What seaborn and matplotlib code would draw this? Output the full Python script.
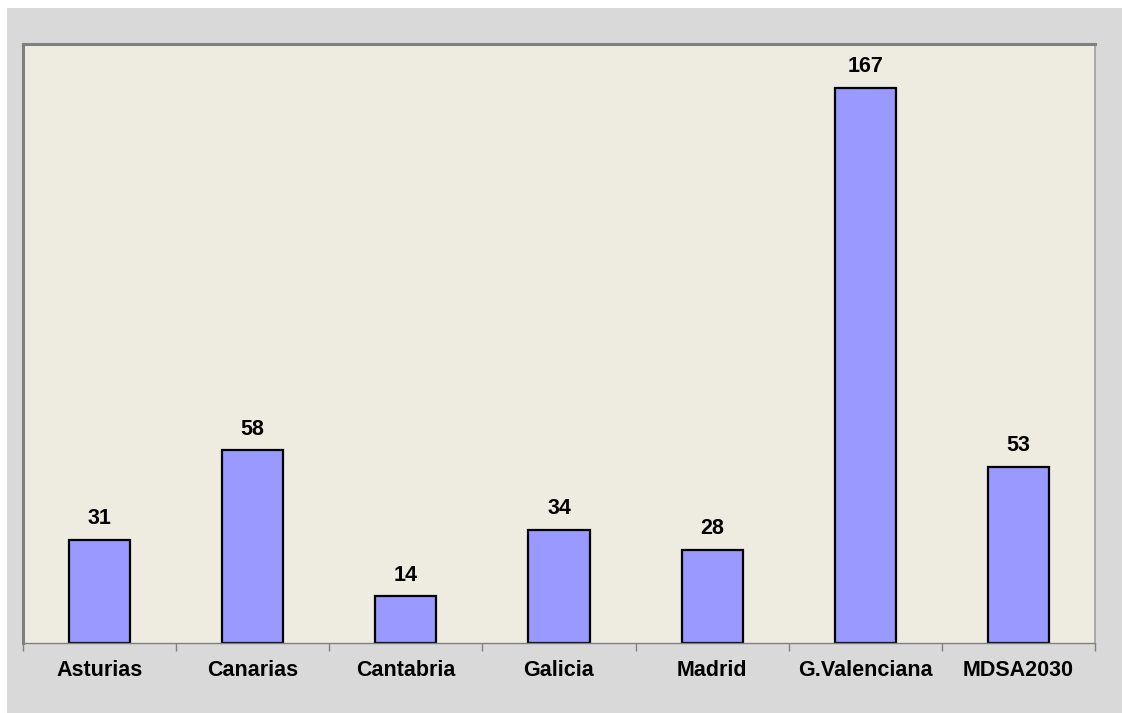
import matplotlib
matplotlib.use("Agg")
import matplotlib.pyplot as plt
from matplotlib.patches import Rectangle
import pandas as pd
import seaborn as sns

regions = ["Asturias", "Canarias", "Cantabria", "Galicia", "Madrid", "G.Valenciana", "MDSA2030"]
counts = [31, 58, 14, 34, 28, 167, 53]

df = pd.DataFrame({"region": regions, "count": counts})

sns.set_style("white")
plt.rcParams["font.family"] = ["Liberation Sans", "DejaVu Sans"]
plt.rcParams["text.color"] = "black"
plt.rcParams["xtick.color"] = "black"

W, H = 1122, 713
fig = plt.figure(figsize=(W / 100, H / 100), dpi=100)
fig.patch.set_facecolor("white")
fig.patches.append(Rectangle((7 / W, 0), 1 - 7 / W, 1 - 8 / H, transform=fig.transFigure,
                             facecolor="#d9d9d9", edgecolor="none", zorder=-10))

left, right, top, bottom = 23, 1095, 44, 643
ax = fig.add_axes([left / W, 1 - bottom / H, (right - left) / W, (bottom - top) / H])
ax.set_facecolor("#eeece1")

sns.barplot(data=df, x="region", y="count", ax=ax, color="#9999ff", width=0.4,
            edgecolor="black", linewidth=1.6, saturation=1)

for i, v in enumerate(counts):
    ax.text(i, v + 3.2, str(v), ha="center", va="bottom", fontsize=15.5,
            fontweight="bold", color="black")

ax.set_ylim(0, 180.2)
ax.set_xlim(-0.5, len(regions) - 0.5)
ax.set_yticks([])
ax.set_xlabel("")
ax.set_ylabel("")

# ticks between categories, labels at centers
ax.set_xticks([i - 0.5 for i in range(len(regions) + 1)], minor=False)
ax.set_xticklabels([])
ax.set_xticks(range(len(regions)), minor=True)
ax.set_xticklabels(regions, minor=True, fontsize=15.5, fontweight="bold", color="black")
ax.tick_params(axis="x", which="major", direction="out", length=6, width=1, color="#808080", bottom=True)
ax.tick_params(axis="x", which="minor", length=0, pad=12)

for side in ["top", "left"]:
    ax.spines[side].set_color("#808080")
    ax.spines[side].set_linewidth(2.2)
ax.spines["right"].set_color("#a0a0a0")
ax.spines["right"].set_linewidth(1.2)
ax.spines["bottom"].set_color("#808080")
ax.spines["bottom"].set_linewidth(1)

fig.savefig("out.png", dpi=100, facecolor=fig.get_facecolor())
